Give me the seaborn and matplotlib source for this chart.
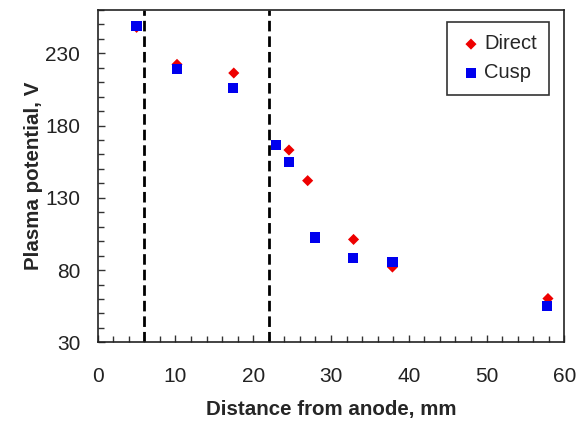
import matplotlib
matplotlib.use("Agg")
import matplotlib.pyplot as plt
import seaborn as sns
import pandas as pd
from matplotlib.ticker import MultipleLocator

direct_x = [5.0, 10.2, 17.5, 24.6, 27.0, 32.9, 37.9, 57.9]
direct_v = [248.0, 222.4, 216.4, 163.1, 141.9, 101.2, 82.1, 60.3]
cusp_x = [5.0, 10.2, 17.4, 22.9, 24.6, 27.9, 32.8, 37.9, 57.8]
cusp_v = [249.0, 219.4, 206.1, 166.3, 154.8, 102.6, 88.4, 85.4, 55.0]
boundaries = [6.0, 22.0]
x_ticks = [0, 10, 20, 30, 40, 50, 60]
y_ticks = [30, 80, 130, 180, 230]

df = pd.concat([
    pd.DataFrame({"x": direct_x, "v": direct_v, "series": "Direct"}),
    pd.DataFrame({"x": cusp_x, "v": cusp_v, "series": "Cusp"}),
], ignore_index=True)

sns.set_style("white")
plt.rcParams['font.family'] = ['Liberation Sans', 'DejaVu Sans']

fig = plt.figure(figsize=(5.79, 4.28), dpi=100)
ax = fig.add_axes([0.1687, 0.2002, 0.8059, 0.7764])

for b in boundaries:
    ax.axvline(b, color="black", lw=2.0, dashes=(3.8, 1.8), zorder=1)

sns.scatterplot(data=df[df.series == "Direct"], x="x", y="v", marker="D",
                color="#ee0000", s=32, edgecolor="none", ax=ax, label="Direct", zorder=3)
sns.scatterplot(data=df[df.series == "Cusp"], x="x", y="v", marker="s",
                color="#0000ee", s=54, edgecolor="none", ax=ax, label="Cusp", zorder=4)

ax.set_xlim(0, 60)
ax.set_ylim(30, 260)
ax.set_xticks(x_ticks)
ax.set_yticks(y_ticks)
ax.xaxis.set_minor_locator(MultipleLocator(2))
ax.yaxis.set_minor_locator(MultipleLocator(10))
ax.tick_params(which="both", direction="in", bottom=True, left=True, top=False, right=False,
               colors="#333333", labelcolor="#222222", labelsize=15)
ax.tick_params(which="major", length=5, width=1)
ax.tick_params(which="minor", length=4, width=1)
ax.tick_params(axis="x", which="major", pad=18)
ax.tick_params(axis="y", which="major", pad=12.5)

for sp in ax.spines.values():
    sp.set_color("#222222")
    sp.set_linewidth(1.2)

ax.set_xlabel("Distance from anode, mm", fontsize=14.8, fontweight="bold", labelpad=10)
ax.set_ylabel("Plasma potential, V", fontsize=14.8, fontweight="bold", labelpad=2)

leg = ax.legend(loc="upper right", bbox_to_anchor=(0.967, 0.963), borderaxespad=0,
                fontsize=14.5, frameon=True, fancybox=False, handletextpad=0.05,
                borderpad=0.6, labelspacing=0.5, handlelength=1.2, markerscale=1.0)
leg.get_frame().set_edgecolor("black")
leg.get_frame().set_linewidth(1.2)

fig.savefig("out.png", dpi=100)
